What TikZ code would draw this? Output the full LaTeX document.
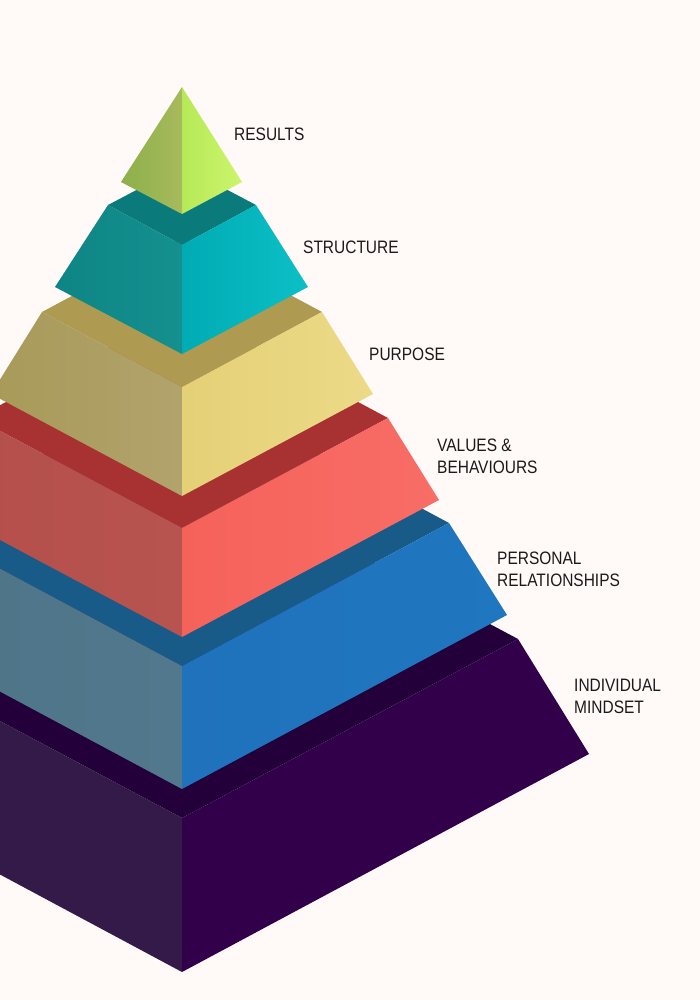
\documentclass[tikz,border=0pt]{standalone}
\usepackage{fontspec}
\setmainfont[FakeStretch=0.86]{Liberation Sans}
\usepackage{xcolor}

\definecolor{paper}{HTML}{FFF9F8}
\definecolor{resultsL}{HTML}{8CB04A}
\definecolor{resultsLL}{HTML}{A8BA5C}
\definecolor{resultsR}{HTML}{B6E958}
\definecolor{resultsRR}{HTML}{CCF56C}
\definecolor{structT}{HTML}{0B7A7A}
\definecolor{structL}{HTML}{0E8585}
\definecolor{structLL}{HTML}{14908F}
\definecolor{structR}{HTML}{00ABB4}
\definecolor{structRR}{HTML}{0CC0C6}
\definecolor{purposeT}{HTML}{AE9A50}
\definecolor{purposeL}{HTML}{A89A58}
\definecolor{purposeLL}{HTML}{B1A36C}
\definecolor{purposeR}{HTML}{E4D076}
\definecolor{purposeRR}{HTML}{ECDA88}
\definecolor{valuesT}{HTML}{A83132}
\definecolor{valuesL}{HTML}{B34E4B}
\definecolor{valuesLL}{HTML}{B85450}
\definecolor{valuesR}{HTML}{F5625A}
\definecolor{valuesRR}{HTML}{F86D67}
\definecolor{personalT}{HTML}{185A88}
\definecolor{personalL}{HTML}{4D7387}
\definecolor{personalLL}{HTML}{51788C}
\definecolor{personalR}{HTML}{1F72BB}
\definecolor{personalRR}{HTML}{1F77C0}
\definecolor{mindT}{HTML}{230039}
\definecolor{mindL}{HTML}{341A48}
\definecolor{mindR}{HTML}{32004A}
\definecolor{ink}{HTML}{1A1A1A}

\begin{document}
\begin{tikzpicture}[x=1pt, y=-1pt,
					tierlabel/.style={anchor=north west, inner sep=0pt, align=left,
						font=\fontsize{18}{22}\selectfont, text=ink}
					]
					\fill[paper] (0,0) rectangle (700,1000);
					\clip (0,0) rectangle (700,1000);
				% individual mindset
					\fill[mindT] (182,460) -- (518,639) -- (182,818) -- (-154,639) -- cycle;
					\fill[mindL] (-154,639) -- (182,818) -- (182,972) -- (-225,754) -- cycle;
					\fill[mindR] (182,818) -- (518,639) -- (589,754) -- (182,972) -- cycle;
				% personal relationships
					\fill[personalT] (182,380) -- (449,523) -- (182,666) -- (-85,523) -- cycle;
					\shade[left color=personalL, right color=personalLL] (-85,523) -- (182,666) -- (182,789) -- (-143,615) -- cycle;
					\shade[left color=personalR, right color=personalRR] (182,666) -- (449,523) -- (507,615) -- (182,789) -- cycle;
				% values & behaviours
					\fill[valuesT] (182,308) -- (388,418) -- (182,528) -- (-24,418) -- cycle;
					\shade[left color=valuesL, right color=valuesLL] (-24,418) -- (182,528) -- (182,637) -- (-75,500) -- cycle;
					\shade[left color=valuesR, right color=valuesRR] (182,528) -- (388,418) -- (439,500) -- (182,637) -- cycle;
				% purpose
					\fill[purposeT] (182,237) -- (322,312) -- (182,387) -- (42,312) -- cycle;
					\shade[left color=purposeL, right color=purposeLL] (42,312) -- (182,387) -- (182,496) -- (-9,394) -- cycle;
					\shade[left color=purposeR, right color=purposeRR] (182,387) -- (322,312) -- (373,394) -- (182,496) -- cycle;
				% structure
					\fill[structT] (182,166) -- (256,205) -- (182,245) -- (108,205) -- cycle;
					\shade[left color=structL, right color=structLL] (108,205) -- (182,245) -- (182,354) -- (55,287) -- cycle;
					\shade[left color=structR, right color=structRR] (182,245) -- (256,205) -- (308,287) -- (182,354) -- cycle;
				% results
					\shade[left color=resultsL, right color=resultsLL] (182,87) -- (121,182) -- (182,214) -- cycle;
					\shade[left color=resultsR, right color=resultsRR] (182,87) -- (242,182) -- (182,214) -- cycle;

					\node[tierlabel] (results) at (234,128) {RESULTS};
					\node[tierlabel] (structure) at (303,241) {STRUCTURE};
					\node[tierlabel] (purpose) at (369,348) {PURPOSE};
					\node[tierlabel] (values) at (437,439) {VALUES \&\\BEHAVIOURS};
					\node[tierlabel] (personal) at (497,552) {PERSONAL\\RELATIONSHIPS};
					\node[tierlabel] (mindset) at (574,679) {INDIVIDUAL\\MINDSET};
				\end{tikzpicture}
\end{document}
